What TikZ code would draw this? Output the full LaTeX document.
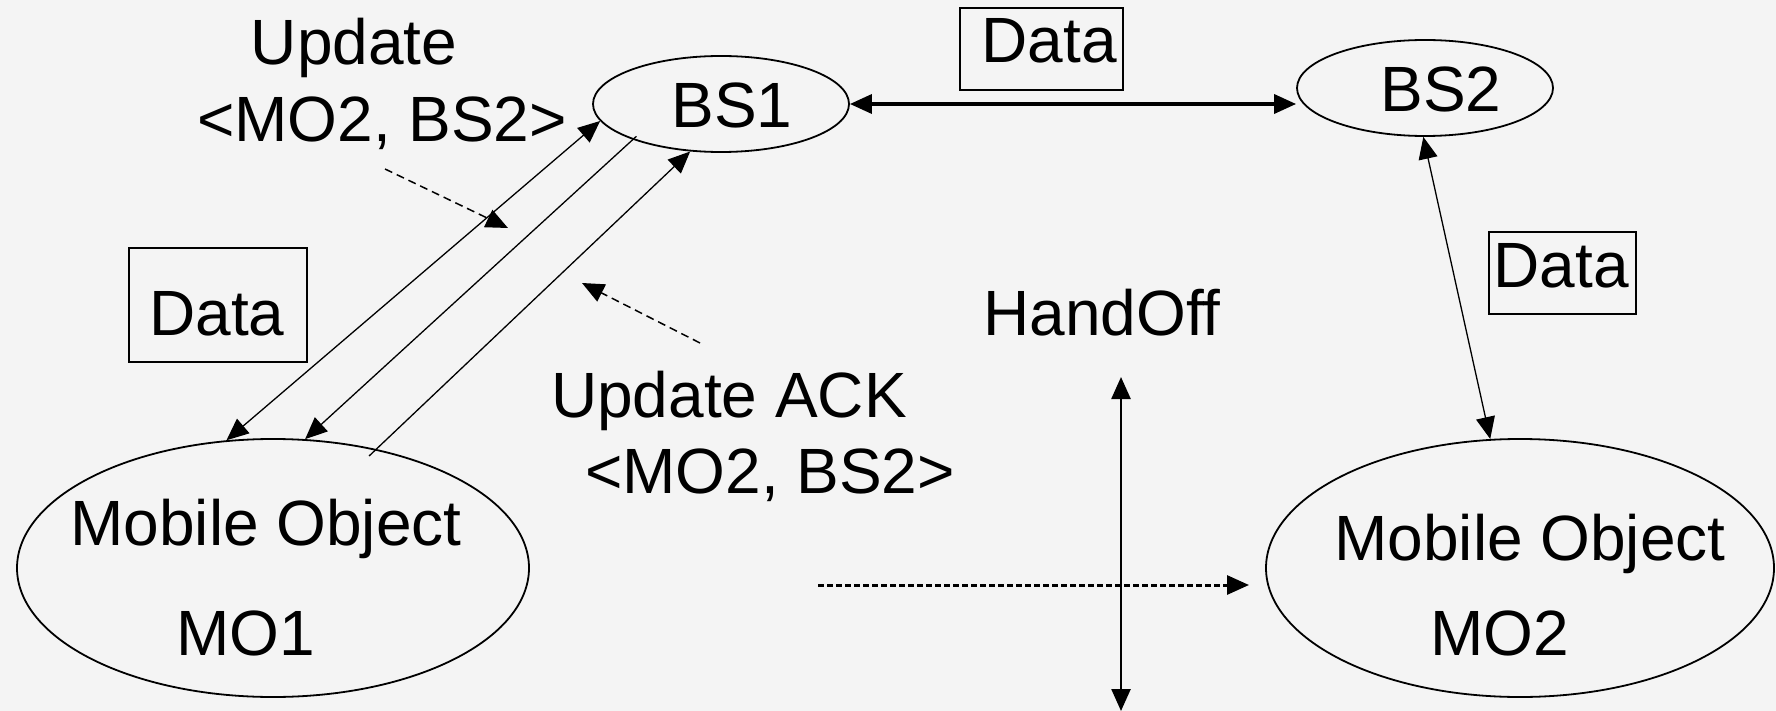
\documentclass[tikz,border=0pt]{standalone}
\usepackage{fontspec}
\setmainfont{Liberation Sans}
\usetikzlibrary{shapes.geometric,arrows.meta}
\definecolor{bg}{RGB}{244,244,244}
\begin{document}
\begin{tikzpicture}[x=1pt,y=-1pt,
  txt/.style={font=\fontsize{64}{77}\selectfont, inner sep=0pt, anchor=base},
  oval/.style={draw, ellipse, line width=1.8pt, inner sep=0pt},
  databox/.style={draw, line width=1.4pt, inner sep=0pt},
  thinline/.style={line width=1.3pt},
  tipend/.style={-{Triangle[length=22pt,width=19pt]}},
  tipboth/.style={{Triangle[length=22pt,width=19pt]}-{Triangle[length=22pt,width=19pt]}},
  dashline/.style={line width=1.5pt, dash pattern=on 8pt off 5pt},
  dotline/.style={line width=3pt, dash pattern=on 6pt off 3pt}
]
\useasboundingbox (0,0) rectangle (1776,711);
\fill[bg] (0,0) rectangle (1776,711);

% ellipses
\node[oval, minimum width=256pt, minimum height=96pt] (BS1) at (721,104) {};
\node[oval, minimum width=256pt, minimum height=96pt] (BS2) at (1425,88) {};
\node[oval, minimum width=512pt, minimum height=258pt] (MO1) at (273,568) {};
\node[oval, minimum width=508pt, minimum height=258pt] (MO2) at (1520,568) {};

% data boxes
\node[databox, minimum width=163pt, minimum height=82pt] (box1) at (1041.5,49) {};
\node[databox, minimum width=178pt, minimum height=114pt] (box2) at (218,305) {};
\node[databox, minimum width=147pt, minimum height=82pt] (box3) at (1562.5,273) {};

% texts
\node[txt] (bs1t) at (732,128) {BS1};
\node[txt] (bs2t) at (1441,112) {BS2};
\node[txt] (d1t) at (1049,63) {Data};
\node[txt] (d2t) at (217,335) {Data};
\node[txt] (d3t) at (1561,287) {Data};
\node[txt] (upd1) at (354,65) {Update};
\node[txt] (upd2) at (382,142) {<MO2, BS2>};
\node[txt] (ack1) at (729,417) {Update ACK};
\node[txt] (ack2) at (770,493) {<MO2, BS2>};
\node[txt] (hand) at (1102,335) {HandOff};
\node[txt] (mo1a) at (266,545) {Mobile Object};
\node[txt] (mo1b) at (246,655) {MO1};
\node[txt] (mo2a) at (1530,560) {Mobile Object};
\node[txt] (mo2b) at (1500,655) {MO2};

% connectors between BS1 and MO1
\draw[thinline, tipboth] (BS1.188) -- (MO1.110);
\draw[thinline, tipend, shorten <=-5pt] (BS1.202) -- (MO1.76);
\draw[thinline, tipend, shorten <=-10pt] (MO1.49) -- (BS1.237);

% BS1 <-> BS2
\draw[line width=3.5pt, tipboth] (BS1.east) -- (BS1.east -| BS2.west);

% BS2 <-> MO2
\draw[thinline, tipboth] (BS2.268) -- (MO2.103);

% dashed pointers
\coordinate (d1s) at (385,169);
\coordinate (d1e) at (508,228);
\coordinate (d2s) at (700,343);
\coordinate (d2e) at (582,283);
\draw[dashline, tipend] (d1s) -- (d1e);
\draw[dashline, tipend] (d2s) -- (d2e);

% handoff movement
\coordinate (h1) at (818,585);
\coordinate (h2) at (1249,585);
\draw[dotline, tipend] (h1) -- (h2);

% vertical boundary
\coordinate (v1) at (1121,377);
\coordinate (v2) at (1121,711);
\draw[line width=2.5pt, tipboth] (v1) -- (v2);
\end{tikzpicture}
\end{document}
